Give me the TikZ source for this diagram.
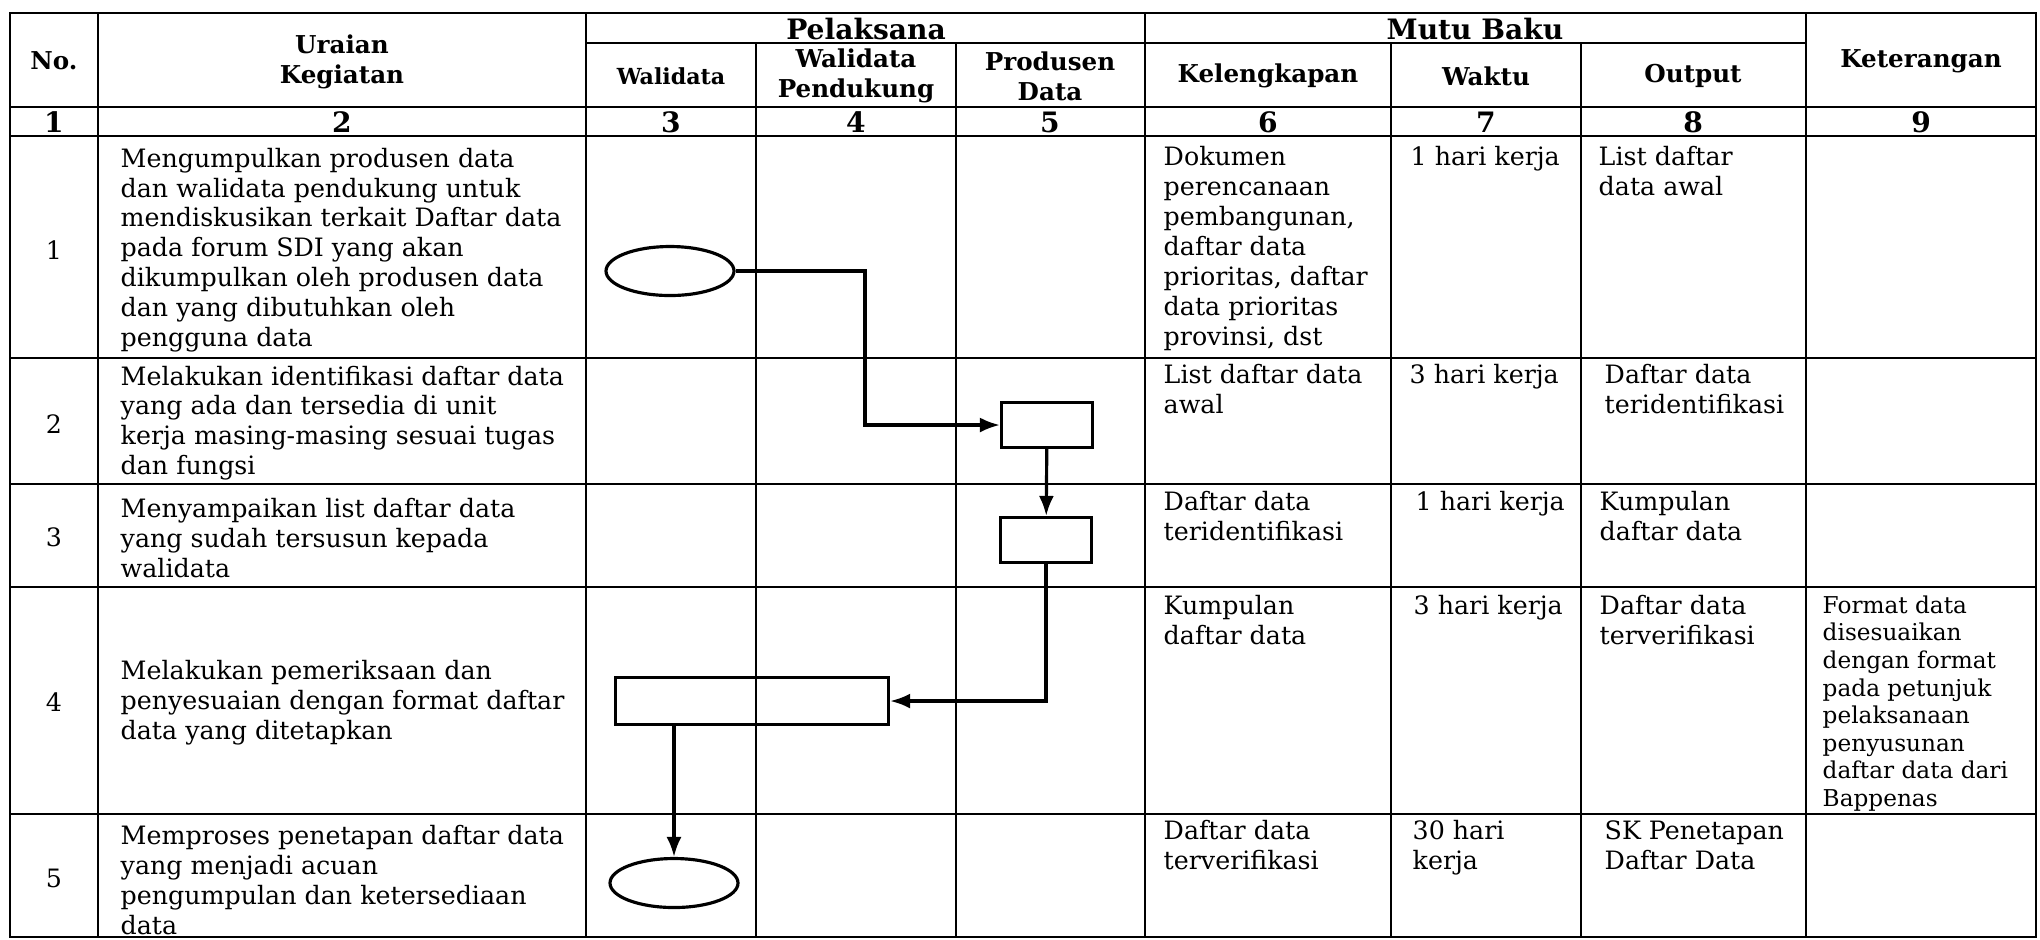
\documentclass[tikz,border=0pt]{standalone}
\usepackage{fontspec}
\setmainfont{DejaVu Serif}
\usetikzlibrary{shapes.geometric,arrows.meta,calc}

\newcommand{\isiteks}{\fontsize{7.2}{8.5}\selectfont}
\newcommand{\judulteks}{\fontsize{7}{8.5}\selectfont\bfseries}
\newcommand{\ketteks}{\fontsize{6.6}{7.85}\selectfont}

\begin{document}
\begin{tikzpicture}[
    x=0.1mm, y=-0.1mm,
    grid/.style={line width=0.7pt},
    head/.style={font=\judulteks, align=center, inner sep=0pt},
    nomor/.style={font=\isiteks, inner sep=0pt},
    uraian/.style={font=\isiteks, anchor=west, align=left, inner sep=0pt},
    cell/.style={font=\isiteks, anchor=north west, align=left, inner sep=0pt},
    terminal/.style={ellipse, draw, line width=0.9pt, minimum width=1.28cm, minimum height=0.49cm, inner sep=0pt},
    proses/.style={rectangle, draw, line width=0.9pt, minimum width=0.91cm, minimum height=0.45cm, inner sep=0pt},
    arrow/.style={-{Latex[length=2mm,width=1.5mm]}, line width=0.9pt}
]
\useasboundingbox (0,0) rectangle (2040,939);

% Table
\draw[grid] (10,13) rectangle (2036,937);
\draw[grid] (98,13) -- (98,937);
\draw[grid] (586,13) -- (586,937);
\draw[grid] (1145,13) -- (1145,937);
\draw[grid] (1806,13) -- (1806,937);
\draw[grid] (756,43) -- (756,937);
\draw[grid] (956,43) -- (956,937);
\draw[grid] (1391,43) -- (1391,937);
\draw[grid] (1581,43) -- (1581,937);
\draw[grid] (586,43) -- (1806,43);
\draw[grid] (10,107) -- (2036,107);
\draw[grid] (10,136) -- (2036,136);
\draw[grid] (10,358) -- (2036,358);
\draw[grid] (10,484) -- (2036,484);
\draw[grid] (10,587) -- (2036,587);
\draw[grid] (10,814) -- (2036,814);

% Header
\node[head] (hNo) at (54,61) {No.};
\node[head] (hUraian) at (342,62) {Uraian\\Kegiatan};
\node[head, font=\fontsize{8}{9}\selectfont\bfseries] (hPelaksana) at (866,29) {Pelaksana};
\node[head, font=\fontsize{6.3}{8}\selectfont\bfseries] (hWalidata) at (671,76) {Walidata};
\node[head] (hPendukung) at (856,76) {Walidata\\Pendukung};
\node[head] (hProdusen) at (1050,76) {Produsen\\Data};
\node[head, font=\fontsize{8}{9}\selectfont\bfseries] (hMutu) at (1475,29) {Mutu Baku};
\node[head] (hKelengkapan) at (1268,76) {Kelengkapan};
\node[head] (hWaktu) at (1486,76) {Waktu};
\node[head] (hOutput) at (1693,76) {Output};
\node[head] (hKet) at (1921,61) {Keterangan};

% Column numbers
\node[head, font=\fontsize{8}{9}\selectfont\bfseries] (k1) at (54,122) {1};
\node[head, font=\fontsize{8}{9}\selectfont\bfseries] (k2) at (342,122) {2};
\node[head, font=\fontsize{8}{9}\selectfont\bfseries] (k3) at (671,122) {3};
\node[head, font=\fontsize{8}{9}\selectfont\bfseries] (k4) at (856,122) {4};
\node[head, font=\fontsize{8}{9}\selectfont\bfseries] (k5) at (1050,122) {5};
\node[head, font=\fontsize{8}{9}\selectfont\bfseries] (k6) at (1268,122) {6};
\node[head, font=\fontsize{8}{9}\selectfont\bfseries] (k7) at (1486,122) {7};
\node[head, font=\fontsize{8}{9}\selectfont\bfseries] (k8) at (1693,122) {8};
\node[head, font=\fontsize{8}{9}\selectfont\bfseries] (k9) at (1921,122) {9};

% Row 1
\node[nomor] (n1) at (54,250) {1};
\node[uraian] (u1) at (120,250) {Mengumpulkan produsen data\\dan walidata pendukung untuk\\mendiskusikan terkait Daftar data\\pada forum SDI yang akan\\dikumpulkan oleh produsen data\\dan yang dibutuhkan oleh\\pengguna data};
\node[cell] (l1) at (1163,146) {Dokumen\\perencanaan\\pembangunan,\\daftar data\\prioritas, daftar\\data prioritas\\provinsi, dst};
\node[cell] (w1) at (1410,146) {1 hari kerja};
\node[cell] (o1) at (1598,146) {List daftar\\data awal};

% Row 2
\node[nomor] (n2) at (54,424) {2};
\node[uraian] (u2) at (120,423) {Melakukan identifikasi daftar data\\yang ada dan tersedia di unit\\kerja masing-masing sesuai tugas\\dan fungsi};
\node[cell] (l2) at (1163,364) {List daftar data\\awal};
\node[cell] (w2) at (1409,364) {3 hari kerja};
\node[cell] (o2) at (1604,364) {Daftar data\\teridentifikasi};

% Row 3
\node[nomor] (n3) at (54,537) {3};
\node[uraian] (u3) at (120,538) {Menyampaikan list daftar data\\yang sudah tersusun kepada\\walidata};
\node[cell] (l3) at (1163,491) {Daftar data\\teridentifikasi};
\node[cell] (w3) at (1415,491) {1 hari kerja};
\node[cell] (o3) at (1599,491) {Kumpulan\\daftar data};

% Row 4
\node[nomor] (n4) at (54,702) {4};
\node[uraian] (u4) at (120,703) {Melakukan pemeriksaan dan\\penyesuaian dengan format daftar\\data yang ditetapkan};
\node[cell] (l4) at (1163,595) {Kumpulan\\daftar data};
\node[cell] (w4) at (1413,595) {3 hari kerja};
\node[cell] (o4) at (1599,595) {Daftar data\\terverifikasi};
\node[cell, font=\ketteks] (ket4) at (1822,595) {Format data\\disesuaikan\\dengan format\\pada petunjuk\\pelaksanaan\\penyusunan\\daftar data dari\\Bappenas};

% Row 5
\node[nomor] (n5) at (54,878) {5};
\node[uraian] (u5) at (120,880) {Memproses penetapan daftar data\\yang menjadi acuan\\pengumpulan dan ketersediaan\\data};
\node[cell] (l5) at (1163,820) {Daftar data\\terverifikasi};
\node[cell] (w5) at (1412,820) {30 hari\\kerja};
\node[cell] (o5) at (1604,820) {SK Penetapan\\Daftar Data};

% Flow
\node[terminal] (mulai) at (670,271) {};
\node[proses] (identifikasi) at (1047,425) {};
\node[proses] (sampaikan) at (1046,540) {};
\node[proses, minimum width=2.73cm, minimum height=0.47cm] (periksa) at (752,701) {};
\node[terminal] (tetapkan) at (674,883) {};
\coordinate (belok) at (865,271);

% Arrows
\draw[arrow] (mulai.east) -- (belok) |- (identifikasi.west);
\draw[arrow] (identifikasi) -- (sampaikan);
\draw[arrow] (sampaikan.south) |- (periksa.east);
\draw[arrow] (periksa.south -| tetapkan.north) -- (tetapkan.north);

\end{tikzpicture}
\end{document}
